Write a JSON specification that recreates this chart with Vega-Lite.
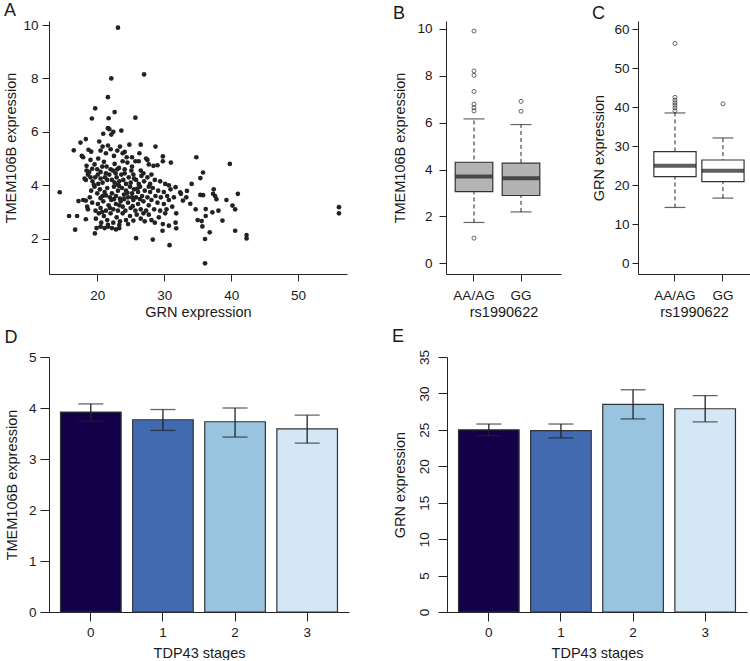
{
  "$schema": "https://vega.github.io/schema/vega-lite/v6.json",
  "padding": {"left": 3, "top": 2, "right": 0, "bottom": 0},
  "background": "white",
  "config": {
    "font": "Liberation Sans",
    "view": {"stroke": null},
    "axis": {
      "domainColor": "#222222", "domainWidth": 1, "tickColor": "#222222", "tickSize": 7, "tickWidth": 1,
      "labelFontSize": 13.5, "labelColor": "#1a1a1a", "titleFontSize": 14.5, "titleFontWeight": "normal",
      "titleColor": "#1a1a1a", "grid": false, "labelFont": "Liberation Sans", "titleFont": "Liberation Sans", "labelOverlap": false
    },
    "title": {"fontSize": 18, "fontWeight": "normal", "anchor": "start", "frame": "bounds", "color": "#1a1a1a", "font": "Liberation Sans"}
  },
  "datasets": {
    "scatter": [
      {"grn": 23.1, "tmem": 9.9}, {"grn": 27.0, "tmem": 8.15}, {"grn": 22.1, "tmem": 8.0}, {"grn": 21.6, "tmem": 7.3},
      {"grn": 19.7, "tmem": 6.88}, {"grn": 22.6, "tmem": 6.74}, {"grn": 19.2, "tmem": 6.5}, {"grn": 21.7, "tmem": 6.51},
      {"grn": 25.7, "tmem": 6.53}, {"grn": 21.6, "tmem": 6.14}, {"grn": 21.8, "tmem": 6.1}, {"grn": 23.6, "tmem": 6.05},
      {"grn": 22.1, "tmem": 5.9}, {"grn": 22.4, "tmem": 6.0}, {"grn": 20.9, "tmem": 5.93}, {"grn": 16.5, "tmem": 5.31},
      {"grn": 17.5, "tmem": 5.6}, {"grn": 18.3, "tmem": 5.73}, {"grn": 20.3, "tmem": 5.64}, {"grn": 17.7, "tmem": 5.1},
      {"grn": 17.9, "tmem": 5.05}, {"grn": 18.7, "tmem": 5.33}, {"grn": 19.1, "tmem": 5.26}, {"grn": 26.5, "tmem": 5.52},
      {"grn": 24.8, "tmem": 5.52}, {"grn": 28.7, "tmem": 5.45}, {"grn": 29.8, "tmem": 5.08}, {"grn": 31.0, "tmem": 4.85},
      {"grn": 34.8, "tmem": 5.05}, {"grn": 39.8, "tmem": 4.8}, {"grn": 35.8, "tmem": 4.48}, {"grn": 35.4, "tmem": 4.27},
      {"grn": 34.1, "tmem": 4.05}, {"grn": 41.0, "tmem": 3.68}, {"grn": 37.4, "tmem": 3.85}, {"grn": 37.6, "tmem": 3.6},
      {"grn": 37.8, "tmem": 3.48}, {"grn": 37.3, "tmem": 3.68}, {"grn": 35.4, "tmem": 3.64}, {"grn": 35.8, "tmem": 3.63},
      {"grn": 39.3, "tmem": 3.45}, {"grn": 38.1, "tmem": 3.05}, {"grn": 37.2, "tmem": 2.99}, {"grn": 36.2, "tmem": 3.11},
      {"grn": 35.0, "tmem": 2.7}, {"grn": 35.6, "tmem": 2.66}, {"grn": 36.2, "tmem": 2.85}, {"grn": 38.7, "tmem": 2.68},
      {"grn": 40.2, "tmem": 3.24}, {"grn": 40.6, "tmem": 3.1}, {"grn": 40.6, "tmem": 2.3}, {"grn": 36.8, "tmem": 2.24},
      {"grn": 35.7, "tmem": 2.46}, {"grn": 36.1, "tmem": 1.99}, {"grn": 36.1, "tmem": 1.08}, {"grn": 42.3, "tmem": 2.14},
      {"grn": 42.3, "tmem": 2.01}, {"grn": 56.1, "tmem": 3.18}, {"grn": 56.1, "tmem": 2.95}, {"grn": 33.3, "tmem": 3.55},
      {"grn": 32.8, "tmem": 3.43}, {"grn": 32.4, "tmem": 3.74}, {"grn": 32.5, "tmem": 3.68}, {"grn": 31.7, "tmem": 3.93},
      {"grn": 33.4, "tmem": 3.79}, {"grn": 33.9, "tmem": 3.31}, {"grn": 34.7, "tmem": 3.1}, {"grn": 31.8, "tmem": 2.95},
      {"grn": 31.7, "tmem": 2.6}, {"grn": 31.8, "tmem": 2.39}, {"grn": 30.8, "tmem": 1.76}, {"grn": 29.75, "tmem": 2.3},
      {"grn": 30.7, "tmem": 2.49}, {"grn": 28.3, "tmem": 1.97}, {"grn": 25.8, "tmem": 2.02}, {"grn": 19.65, "tmem": 2.2},
      {"grn": 16.7, "tmem": 2.34}, {"grn": 15.8, "tmem": 2.85}, {"grn": 14.4, "tmem": 3.74}, {"grn": 17.0, "tmem": 2.85},
      {"grn": 17.2, "tmem": 3.41}, {"grn": 18.3, "tmem": 2.73}, {"grn": 18.3, "tmem": 3.43}, {"grn": 18.5, "tmem": 3.2},
      {"grn": 18.3, "tmem": 4.2},
      {"grn": 20.15, "tmem": 5.0}, {"grn": 20.5, "tmem": 5.3}, {"grn": 20.8, "tmem": 5.45}, {"grn": 21.3, "tmem": 5.2},
      {"grn": 21.6, "tmem": 5.49}, {"grn": 22.5, "tmem": 5.1}, {"grn": 23.0, "tmem": 5.3}, {"grn": 23.8, "tmem": 5.2},
      {"grn": 24.1, "tmem": 5.25}, {"grn": 25.2, "tmem": 5.05}, {"grn": 26.3, "tmem": 5.2}, {"grn": 27.3, "tmem": 5.0},
      {"grn": 23.4, "tmem": 5.45}, {"grn": 24.4, "tmem": 5.05}, {"grn": 22.0, "tmem": 5.35},
      {"grn": 18.41, "tmem": 4.73}, {"grn": 19.6, "tmem": 4.78}, {"grn": 20.0, "tmem": 4.6}, {"grn": 20.75, "tmem": 4.7},
      {"grn": 21.4, "tmem": 4.7}, {"grn": 22.0, "tmem": 4.6}, {"grn": 22.6, "tmem": 4.8}, {"grn": 23.25, "tmem": 4.65},
      {"grn": 23.8, "tmem": 4.9}, {"grn": 24.5, "tmem": 4.85}, {"grn": 25.2, "tmem": 4.7}, {"grn": 25.7, "tmem": 4.9},
      {"grn": 26.2, "tmem": 4.9}, {"grn": 27.5, "tmem": 4.95}, {"grn": 28.4, "tmem": 4.73}, {"grn": 29.0, "tmem": 4.75},
      {"grn": 29.8, "tmem": 4.9}, {"grn": 18.41, "tmem": 4.55}, {"grn": 18.81, "tmem": 4.5}, {"grn": 19.25, "tmem": 4.62},
      {"grn": 20.5, "tmem": 4.5}, {"grn": 22.35, "tmem": 4.55}, {"grn": 23.0, "tmem": 4.6}, {"grn": 24.1, "tmem": 4.6},
      {"grn": 25.1, "tmem": 4.55}, {"grn": 26.5, "tmem": 4.55}, {"grn": 27.7, "tmem": 4.78}, {"grn": 21.0, "tmem": 4.88},
      {"grn": 19.0, "tmem": 4.95},
      {"grn": 18.11, "tmem": 4.25}, {"grn": 18.61, "tmem": 4.4}, {"grn": 19.0, "tmem": 4.3}, {"grn": 19.3, "tmem": 4.15},
      {"grn": 19.7, "tmem": 4.3}, {"grn": 20.1, "tmem": 4.4}, {"grn": 20.5, "tmem": 4.25}, {"grn": 20.8, "tmem": 4.1},
      {"grn": 21.15, "tmem": 4.3}, {"grn": 21.5, "tmem": 4.2}, {"grn": 21.8, "tmem": 4.4}, {"grn": 22.2, "tmem": 4.2},
      {"grn": 22.6, "tmem": 4.1}, {"grn": 22.9, "tmem": 4.3}, {"grn": 23.3, "tmem": 4.15}, {"grn": 23.6, "tmem": 4.4},
      {"grn": 23.9, "tmem": 4.2}, {"grn": 24.3, "tmem": 4.05}, {"grn": 24.7, "tmem": 4.3}, {"grn": 25.0, "tmem": 4.1},
      {"grn": 25.4, "tmem": 4.4}, {"grn": 25.8, "tmem": 4.2}, {"grn": 26.2, "tmem": 4.05}, {"grn": 26.6, "tmem": 4.35},
      {"grn": 27.0, "tmem": 4.15}, {"grn": 27.5, "tmem": 4.3}, {"grn": 27.9, "tmem": 4.05}, {"grn": 28.6, "tmem": 4.2},
      {"grn": 29.4, "tmem": 4.15}, {"grn": 30.15, "tmem": 4.05}, {"grn": 30.7, "tmem": 4.0}, {"grn": 20.15, "tmem": 4.05},
      {"grn": 21.3, "tmem": 4.45}, {"grn": 22.75, "tmem": 4.45}, {"grn": 24.1, "tmem": 4.45}, {"grn": 19.5, "tmem": 4.02},
      {"grn": 23.1, "tmem": 4.02}, {"grn": 25.5, "tmem": 4.25}, {"grn": 26.9, "tmem": 4.45}, {"grn": 28.1, "tmem": 4.4},
      {"grn": 19.1, "tmem": 3.8}, {"grn": 19.6, "tmem": 3.95}, {"grn": 20.0, "tmem": 3.7}, {"grn": 20.4, "tmem": 3.85},
      {"grn": 20.8, "tmem": 3.6}, {"grn": 21.1, "tmem": 3.75}, {"grn": 21.5, "tmem": 3.9}, {"grn": 21.9, "tmem": 3.55},
      {"grn": 22.2, "tmem": 3.7}, {"grn": 22.5, "tmem": 3.95}, {"grn": 22.8, "tmem": 3.6}, {"grn": 23.1, "tmem": 3.8},
      {"grn": 23.4, "tmem": 3.5}, {"grn": 23.7, "tmem": 3.9}, {"grn": 24.0, "tmem": 3.65}, {"grn": 24.3, "tmem": 3.8},
      {"grn": 24.6, "tmem": 3.55}, {"grn": 24.9, "tmem": 3.95}, {"grn": 25.2, "tmem": 3.7}, {"grn": 25.5, "tmem": 3.85},
      {"grn": 25.8, "tmem": 3.55}, {"grn": 26.1, "tmem": 3.75}, {"grn": 26.4, "tmem": 3.95}, {"grn": 26.7, "tmem": 3.6},
      {"grn": 27.1, "tmem": 3.8}, {"grn": 27.5, "tmem": 3.55}, {"grn": 27.9, "tmem": 3.75}, {"grn": 28.3, "tmem": 3.9},
      {"grn": 28.7, "tmem": 3.6}, {"grn": 29.1, "tmem": 3.8}, {"grn": 29.5, "tmem": 3.55}, {"grn": 29.95, "tmem": 3.75},
      {"grn": 30.45, "tmem": 3.6}, {"grn": 30.95, "tmem": 3.85}, {"grn": 31.45, "tmem": 3.55}, {"grn": 23.25, "tmem": 3.98},
      {"grn": 25.2, "tmem": 3.55}, {"grn": 20.5, "tmem": 3.52}, {"grn": 27.7, "tmem": 3.95}, {"grn": 18.9, "tmem": 3.55},
      {"grn": 21.3, "tmem": 3.62}, {"grn": 24.5, "tmem": 3.72}, {"grn": 26.0, "tmem": 3.88},
      {"grn": 17.91, "tmem": 3.45}, {"grn": 18.61, "tmem": 3.1}, {"grn": 19.25, "tmem": 3.35}, {"grn": 19.75, "tmem": 3.05},
      {"grn": 20.1, "tmem": 3.3}, {"grn": 20.5, "tmem": 3.15}, {"grn": 20.9, "tmem": 3.4}, {"grn": 21.3, "tmem": 3.05},
      {"grn": 21.7, "tmem": 3.25}, {"grn": 22.1, "tmem": 3.45}, {"grn": 22.4, "tmem": 3.1}, {"grn": 22.8, "tmem": 3.3},
      {"grn": 23.1, "tmem": 3.05}, {"grn": 23.5, "tmem": 3.4}, {"grn": 23.8, "tmem": 3.2}, {"grn": 24.2, "tmem": 3.05},
      {"grn": 24.6, "tmem": 3.35}, {"grn": 25.0, "tmem": 3.15}, {"grn": 25.4, "tmem": 3.45}, {"grn": 25.7, "tmem": 3.05},
      {"grn": 26.1, "tmem": 3.3}, {"grn": 26.5, "tmem": 3.1}, {"grn": 26.9, "tmem": 3.4}, {"grn": 27.3, "tmem": 3.05},
      {"grn": 27.7, "tmem": 3.25}, {"grn": 28.1, "tmem": 3.45}, {"grn": 28.5, "tmem": 3.1}, {"grn": 29.0, "tmem": 3.35},
      {"grn": 29.4, "tmem": 3.05}, {"grn": 29.95, "tmem": 3.3}, {"grn": 30.35, "tmem": 3.1}, {"grn": 30.7, "tmem": 3.45},
      {"grn": 31.2, "tmem": 3.2}, {"grn": 20.75, "tmem": 3.0}, {"grn": 22.5, "tmem": 3.48}, {"grn": 24.0, "tmem": 3.48},
      {"grn": 26.4, "tmem": 3.48}, {"grn": 23.3, "tmem": 3.25}, {"grn": 25.3, "tmem": 3.22}, {"grn": 21.9, "tmem": 3.15},
      {"grn": 19.8, "tmem": 2.75}, {"grn": 20.25, "tmem": 2.95}, {"grn": 20.6, "tmem": 2.6}, {"grn": 21.0, "tmem": 2.85},
      {"grn": 21.5, "tmem": 2.7}, {"grn": 22.0, "tmem": 2.95}, {"grn": 22.4, "tmem": 2.6}, {"grn": 22.9, "tmem": 2.8},
      {"grn": 23.4, "tmem": 2.65}, {"grn": 23.8, "tmem": 2.95}, {"grn": 24.3, "tmem": 2.7}, {"grn": 24.9, "tmem": 2.85},
      {"grn": 25.4, "tmem": 2.68}, {"grn": 25.9, "tmem": 2.9}, {"grn": 26.5, "tmem": 2.75}, {"grn": 27.1, "tmem": 2.65},
      {"grn": 27.7, "tmem": 2.9}, {"grn": 28.1, "tmem": 2.7}, {"grn": 28.6, "tmem": 2.6}, {"grn": 29.2, "tmem": 2.8},
      {"grn": 29.8, "tmem": 2.55}, {"grn": 30.15, "tmem": 2.95}, {"grn": 21.6, "tmem": 2.52}, {"grn": 23.3, "tmem": 2.52},
      {"grn": 24.6, "tmem": 2.55}, {"grn": 26.9, "tmem": 2.95},
      {"grn": 19.9, "tmem": 2.4}, {"grn": 20.5, "tmem": 2.45}, {"grn": 21.1, "tmem": 2.4}, {"grn": 21.6, "tmem": 2.45},
      {"grn": 22.2, "tmem": 2.4}, {"grn": 22.8, "tmem": 2.35}, {"grn": 23.3, "tmem": 2.4}
    ],
    "boxB": [
      {"geno": "AA/AG", "lo": 1.74, "q1": 3.06, "med": 3.70, "q3": 4.31, "hi": 6.16},
      {"geno": "GG", "lo": 2.19, "q1": 2.89, "med": 3.63, "q3": 4.27, "hi": 5.92}
    ],
    "outB": [
      {"geno": "AA/AG", "val": 9.91}, {"geno": "AA/AG", "val": 8.21}, {"geno": "AA/AG", "val": 8.02},
      {"geno": "AA/AG", "val": 7.33}, {"geno": "AA/AG", "val": 6.79}, {"geno": "AA/AG", "val": 6.64},
      {"geno": "AA/AG", "val": 6.5}, {"geno": "AA/AG", "val": 1.07},
      {"geno": "GG", "val": 6.91}, {"geno": "GG", "val": 6.49}
    ],
    "boxC": [
      {"geno": "AA/AG", "lo": 14.3, "q1": 22.2, "med": 25.0, "q3": 28.6, "hi": 38.5},
      {"geno": "GG", "lo": 16.7, "q1": 20.9, "med": 23.7, "q3": 26.45, "hi": 32.1}
    ],
    "outC": [
      {"geno": "AA/AG", "val": 56.3}, {"geno": "AA/AG", "val": 42.5}, {"geno": "AA/AG", "val": 41.8},
      {"geno": "AA/AG", "val": 41.1}, {"geno": "AA/AG", "val": 40.5}, {"geno": "AA/AG", "val": 39.8},
      {"geno": "AA/AG", "val": 39.1}, {"geno": "GG", "val": 40.84}
    ],
    "barD": [
      {"stage": "0", "mean": 3.92, "lo": 3.74, "hi": 4.08},
      {"stage": "1", "mean": 3.77, "lo": 3.56, "hi": 3.97},
      {"stage": "2", "mean": 3.73, "lo": 3.43, "hi": 4.0},
      {"stage": "3", "mean": 3.59, "lo": 3.31, "hi": 3.86}
    ],
    "barE": [
      {"stage": "0", "mean": 25.0, "lo": 24.2, "hi": 25.8},
      {"stage": "1", "mean": 24.9, "lo": 23.9, "hi": 25.8},
      {"stage": "2", "mean": 28.5, "lo": 26.5, "hi": 30.5},
      {"stage": "3", "mean": 27.9, "lo": 26.1, "hi": 29.7}
    ]
  },
  "vconcat": [
    {
      "spacing": 45,
      "hconcat": [
        {
          "width": 298, "height": 253,
          "title": {"text": "A", "offset": -2},
          "layer": [
            {
              "data": {"name": "scatter"},
              "mark": {"type": "point", "filled": true, "size": 22, "color": "#222222", "opacity": 1},
              "encoding": {
                "x": {"field": "grn", "type": "quantitative", "scale": {"domain": [12.8, 57.3], "nice": false, "zero": false},
                      "axis": {"values": [20, 30, 40, 50], "title": "GRN expression", "labelPadding": 7, "titlePadding": 4}},
                "y": {"field": "tmem", "type": "quantitative", "scale": {"domain": [0.68, 10.15], "nice": false, "zero": false},
                      "axis": {"values": [2, 4, 6, 8, 10], "title": "TMEM106B expression", "labelPadding": 4, "titlePadding": 4}}
              }
            },
            {
              "mark": {"type": "text", "text": "Spearman corr = -0.27", "fontSize": 13, "color": "#1a1a1a", "align": "center", "baseline": "middle"},
              "encoding": {"x": {"datum": 43.1, "type": "quantitative"}, "y": {"datum": 8.4, "type": "quantitative"}}
            }
          ]
        },
        {
          "spacing": 30,
          "hconcat": [
            {
              "width": 115, "height": 253,
              "title": {"text": "B", "offset": -2},
              "encoding": {
                "x": {"field": "geno", "type": "nominal", "sort": ["AA/AG", "GG"],
                      "scale": {"domain": ["AA/AG", "GG"], "paddingInner": 0, "paddingOuter": 0.223, "align": 0.214},
                      "axis": {"title": "rs1990622", "labelAngle": 0, "labelPadding": 7, "titlePadding": 4}}
              },
              "layer": [
                {
                  "data": {"name": "boxB"},
                  "mark": {"type": "rule", "strokeDash": [4, 3], "color": "#222222"},
                  "encoding": {
                    "y": {"field": "lo", "type": "quantitative", "scale": {"domain": [-0.46, 10.34], "nice": false, "zero": false},
                          "axis": {"values": [0, 2, 4, 6, 8, 10], "title": "TMEM106B expression", "labelPadding": 7, "titlePadding": 9}},
                    "y2": {"field": "hi"}
                  }
                },
                {
                  "data": {"name": "boxB"},
                  "mark": {"type": "tick", "size": 21, "thickness": 1.2, "color": "#222222"},
                  "encoding": {"y": {"field": "lo", "type": "quantitative"}}
                },
                {
                  "data": {"name": "boxB"},
                  "mark": {"type": "tick", "size": 21, "thickness": 1.2, "color": "#222222"},
                  "encoding": {"y": {"field": "hi", "type": "quantitative"}}
                },
                {
                  "data": {"name": "boxB"},
                  "mark": {"type": "bar", "width": {"band": 0.8}, "fill": "#B3B3B3", "stroke": "#333333", "strokeWidth": 1.2},
                  "encoding": {"y": {"field": "q1", "type": "quantitative"}, "y2": {"field": "q3"}}
                },
                {
                  "data": {"name": "boxB"},
                  "mark": {"type": "tick", "size": 37, "thickness": 4, "color": "#1a1a1a"},
                  "encoding": {"y": {"field": "med", "type": "quantitative"}}
                },
                {
                  "data": {"name": "outB"},
                  "mark": {"type": "point", "shape": "circle", "filled": false, "size": 16, "color": "#222222", "strokeWidth": 1},
                  "encoding": {"y": {"field": "val", "type": "quantitative"}}
                }
              ]
            },
            {
              "width": 112, "height": 253,
              "title": {"text": "C", "offset": -2},
              "encoding": {
                "x": {"field": "geno", "type": "nominal", "sort": ["AA/AG", "GG"],
                      "scale": {"domain": ["AA/AG", "GG"], "paddingInner": 0, "paddingOuter": 0.167, "align": 0.81},
                      "axis": {"title": "rs1990622", "labelAngle": 0, "labelPadding": 7, "titlePadding": 4}}
              },
              "layer": [
                {
                  "data": {"name": "boxC"},
                  "mark": {"type": "rule", "strokeDash": [4, 3], "color": "#222222"},
                  "encoding": {
                    "y": {"field": "lo", "type": "quantitative", "scale": {"domain": [-2.74, 62.05], "nice": false, "zero": false},
                          "axis": {"values": [0, 10, 20, 30, 40, 50, 60], "title": "GRN expression", "tickSize": 6, "labelPadding": 3, "titlePadding": 7}},
                    "y2": {"field": "hi"}
                  }
                },
                {
                  "data": {"name": "boxC"},
                  "mark": {"type": "tick", "size": 21, "thickness": 1.2, "color": "#222222"},
                  "encoding": {"y": {"field": "lo", "type": "quantitative"}}
                },
                {
                  "data": {"name": "boxC"},
                  "mark": {"type": "tick", "size": 21, "thickness": 1.2, "color": "#222222"},
                  "encoding": {"y": {"field": "hi", "type": "quantitative"}}
                },
                {
                  "data": {"name": "boxC"},
                  "mark": {"type": "bar", "width": {"band": 0.88}, "fill": "#FFFFFF", "stroke": "#333333", "strokeWidth": 1.2},
                  "encoding": {"y": {"field": "q1", "type": "quantitative"}, "y2": {"field": "q3"}}
                },
                {
                  "data": {"name": "boxC"},
                  "mark": {"type": "tick", "size": 42, "thickness": 4, "color": "#1a1a1a"},
                  "encoding": {"y": {"field": "med", "type": "quantitative"}}
                },
                {
                  "data": {"name": "outC"},
                  "mark": {"type": "point", "shape": "circle", "filled": false, "size": 16, "color": "#222222", "strokeWidth": 1},
                  "encoding": {"y": {"field": "val", "type": "quantitative"}}
                }
              ]
            }
          ]
        }
      ]
    },
    {
      "spacing": 42,
      "hconcat": [
        {
          "width": 300, "height": 255,
          "title": {"text": "D", "offset": 3},
          "data": {"name": "barD"},
          "encoding": {
            "x": {"field": "stage", "type": "ordinal", "scale": {"paddingInner": 0.16, "paddingOuter": 0.16},
                  "axis": {"title": "TDP43 stages", "labelAngle": 0, "tickSize": 9, "labelPadding": 4, "titlePadding": 8}}
          },
          "layer": [
            {
              "mark": {"type": "bar", "stroke": "#333333", "strokeWidth": 1.2},
              "encoding": {
                "y": {"field": "mean", "type": "quantitative", "scale": {"domain": [0, 5], "nice": false},
                      "axis": {"values": [0, 1, 2, 3, 4, 5], "title": "TMEM106B expression", "tickSize": 9, "labelPadding": 4, "titlePadding": 9, "labelOverlap": false}},
                "fill": {"field": "stage", "type": "ordinal", "scale": {"range": ["#120048", "#416AB0", "#98C4E0", "#D4E7F4"]}, "legend": null}
              }
            },
            {
              "mark": {"type": "rule", "color": "#222222", "strokeWidth": 1.3},
              "encoding": {"y": {"field": "lo", "type": "quantitative"}, "y2": {"field": "hi"}}
            },
            {
              "mark": {"type": "tick", "size": 25, "thickness": 1.3, "color": "#222222"},
              "encoding": {"y": {"field": "lo", "type": "quantitative"}}
            },
            {
              "mark": {"type": "tick", "size": 25, "thickness": 1.3, "color": "#222222"},
              "encoding": {"y": {"field": "hi", "type": "quantitative"}}
            }
          ]
        },
        {
          "width": 300, "height": 255,
          "title": {"text": "E", "offset": 3},
          "data": {"name": "barE"},
          "encoding": {
            "x": {"field": "stage", "type": "ordinal", "scale": {"paddingInner": 0.16, "paddingOuter": 0.16},
                  "axis": {"title": "TDP43 stages", "labelAngle": 0, "tickSize": 9, "labelPadding": 4, "titlePadding": 8}}
          },
          "layer": [
            {
              "mark": {"type": "bar", "stroke": "#333333", "strokeWidth": 1.2},
              "encoding": {
                "y": {"field": "mean", "type": "quantitative", "scale": {"domain": [0, 35], "nice": false},
                      "axis": {"values": [0, 5, 10, 15, 20, 25, 30, 35], "tickCount": 8, "title": "GRN expression", "tickSize": 9, "labelOverlap": false,
                               "labelAngle": 270, "labelAlign": "center", "labelBaseline": "bottom", "labelPadding": 7, "titlePadding": 10}},
                "fill": {"field": "stage", "type": "ordinal", "scale": {"range": ["#120048", "#416AB0", "#98C4E0", "#D4E7F4"]}, "legend": null}
              }
            },
            {
              "mark": {"type": "rule", "color": "#222222", "strokeWidth": 1.3},
              "encoding": {"y": {"field": "lo", "type": "quantitative", "axis": {"values": [0, 5, 10, 15, 20, 25, 30, 35], "labelOverlap": false}}, "y2": {"field": "hi"}}
            },
            {
              "mark": {"type": "tick", "size": 25, "thickness": 1.3, "color": "#222222"},
              "encoding": {"y": {"field": "lo", "type": "quantitative", "axis": {"values": [0, 5, 10, 15, 20, 25, 30, 35], "labelOverlap": false}}}
            },
            {
              "mark": {"type": "tick", "size": 25, "thickness": 1.3, "color": "#222222"},
              "encoding": {"y": {"field": "hi", "type": "quantitative", "axis": {"values": [0, 5, 10, 15, 20, 25, 30, 35], "labelOverlap": false}}}
            }
          ]
        }
      ]
    }
  ],
  "spacing": 9
}
